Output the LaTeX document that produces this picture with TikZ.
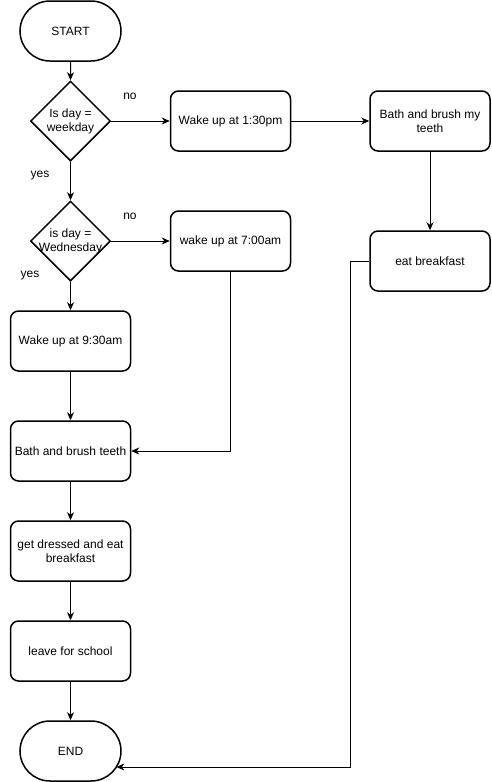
\documentclass[tikz,border=0pt]{standalone}
\usepackage{fontspec}
\setmainfont{Liberation Sans}
\usetikzlibrary{shapes.geometric,shapes.misc,arrows.meta}
\begin{document}
\begin{tikzpicture}[x=1pt,y=-1pt,
  every node/.style={font=\fontsize{12}{14}\selectfont},
  box/.style={draw,line width=1.5pt,rounded corners=8pt,minimum width=120pt,minimum height=60pt,inner sep=0pt,align=center},
  term/.style={draw,line width=1.5pt,rounded rectangle,minimum width=101pt,minimum height=60pt,inner sep=0pt},
  decision/.style={draw,line width=1.5pt,diamond,minimum width=80pt,minimum height=80pt,inner sep=0pt},
  conn/.style={line width=1pt,-{Stealth[length=8pt,width=7pt,inset=2.5pt]}},
  lbl/.style={inner sep=0pt}
]
\useasboundingbox (0,0) rectangle (491,782);
\node[term] (start) at (70.5,31) {START};
\node[decision,label={[align=center,font=\fontsize{12}{14}\selectfont]center:Is day =\\weekday}] (d1) at (70.5,121) {};
\node[decision,label={[align=center,font=\fontsize{12}{14}\selectfont]center:is day =\\Wednesday}] (d2) at (70.5,241) {};
\node[box] (w1) at (230.5,121) {Wake up at 1:30pm};
\node[box] (w2) at (230.5,241) {wake up at 7:00am};
\node[box] (bb2) at (430,121) {Bath and brush my\\teeth};
\node[box] (eb) at (430,261) {eat breakfast};
\node[box] (w930) at (70.5,341) {Wake up at 9:30am};
\node[box] (bbt) at (70.5,451) {Bath and brush teeth};
\node[box] (gd) at (70.5,551) {get dressed and eat\\breakfast};
\node[box] (ls) at (70.5,651) {leave for school};
\node[term] (end) at (70.5,751) {END};
\node[lbl] (no1) at (130,96) {no};
\node[lbl] (no2) at (130,216) {no};
\node[lbl] (yes1) at (40,176) {yes};
\node[lbl] (yes2) at (30,276) {yes};
\coordinate (endin) at (116.4,767);
\draw[conn] (start) -- (d1);
\draw[conn] (d1) -- (w1);
\draw[conn] (d1) -- (d2);
\draw[conn] (d2) -- (w2);
\draw[conn] (d2) -- (w930);
\draw[conn] (w1) -- (bb2);
\draw[conn] (bb2) -- (eb);
\draw[conn] (w930) -- (bbt);
\draw[conn] (w2.south) |- (bbt.east);
\draw[conn] (bbt) -- (gd);
\draw[conn] (gd) -- (ls);
\draw[conn] (ls) -- (end);
\draw[conn] (eb.west) -- ++(-19,0) |- (endin);
\end{tikzpicture}
\end{document}
